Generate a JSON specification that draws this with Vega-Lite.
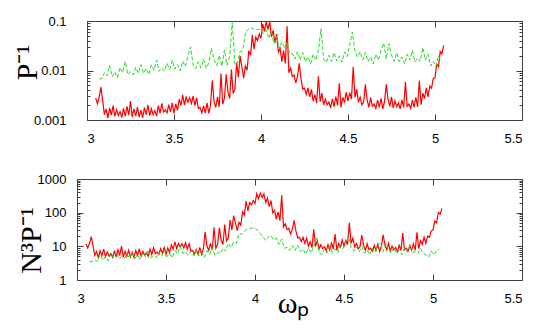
{
"$schema":"https://vega.github.io/schema/vega-lite/v6.json",
"autosize":{"type":"pad"},
"padding":{"left":12,"top":15,"right":5,"bottom":5},
"background":"white",
"spacing":28,
"datasets":{
"red":[
{"x":3.05,"a":0.0028,"c":11.8},{"x":3.06,"a":0.00213,"c":8.95},{"x":3.07,"a":0.00288,"c":12.1},{"x":3.08,"a":0.0046,"c":19.3},{"x":3.09,"a":0.00247,"c":10.4},
{"x":3.1,"a":0.00128,"c":5.38},{"x":3.11,"a":0.00168,"c":7.06},{"x":3.12,"a":0.00109,"c":4.58},{"x":3.13,"a":0.00175,"c":7.35},{"x":3.14,"a":0.00126,"c":5.29},
{"x":3.15,"a":0.00196,"c":8.23},{"x":3.16,"a":0.00118,"c":4.96},{"x":3.17,"a":0.00161,"c":6.76},{"x":3.18,"a":0.00123,"c":5.17},{"x":3.19,"a":0.00147,"c":6.17},
{"x":3.2,"a":0.00112,"c":4.7},{"x":3.21,"a":0.00171,"c":7.18},{"x":3.22,"a":0.00119,"c":5},{"x":3.23,"a":0.00189,"c":7.94},{"x":3.24,"a":0.00126,"c":5.29},
{"x":3.25,"a":0.0024,"c":10.1},{"x":3.26,"a":0.00115,"c":4.83},{"x":3.27,"a":0.00168,"c":7.06},{"x":3.28,"a":0.0012,"c":5.04},{"x":3.29,"a":0.00182,"c":7.64},
{"x":3.3,"a":0.00114,"c":4.79},{"x":3.31,"a":0.00159,"c":6.68},{"x":3.32,"a":0.00111,"c":4.66},{"x":3.33,"a":0.00179,"c":7.52},{"x":3.34,"a":0.00129,"c":5.42},
{"x":3.35,"a":0.00202,"c":8.48},{"x":3.36,"a":0.00122,"c":5.12},{"x":3.37,"a":0.00168,"c":7.06},{"x":3.38,"a":0.00129,"c":5.42},{"x":3.39,"a":0.00155,"c":6.51},
{"x":3.4,"a":0.0012,"c":5.04},{"x":3.41,"a":0.00195,"c":8.19},{"x":3.42,"a":0.00136,"c":5.71},{"x":3.43,"a":0.00216,"c":9.07},{"x":3.44,"a":0.00144,"c":6.05},
{"x":3.45,"a":0.0016,"c":6.72},{"x":3.46,"a":0.00139,"c":5.84},{"x":3.47,"a":0.00204,"c":8.57},{"x":3.48,"a":0.00146,"c":6.13},{"x":3.49,"a":0.00221,"c":9.28},
{"x":3.5,"a":0.00136,"c":5.71},{"x":3.51,"a":0.00213,"c":8.95},{"x":3.52,"a":0.00156,"c":6.55},{"x":3.53,"a":0.00263,"c":11},{"x":3.54,"a":0.00198,"c":8.32},
{"x":3.55,"a":0.00322,"c":13.5},{"x":3.56,"a":0.00202,"c":8.48},{"x":3.57,"a":0.00288,"c":12.1},{"x":3.58,"a":0.00229,"c":9.62},{"x":3.59,"a":0.00284,"c":11.9},
{"x":3.6,"a":0.00216,"c":9.07},{"x":3.61,"a":0.00305,"c":12.8},{"x":3.62,"a":0.00196,"c":8.23},{"x":3.63,"a":0.00284,"c":11.9},{"x":3.64,"a":0.00171,"c":7.18},
{"x":3.65,"a":0.0018,"c":7.56},{"x":3.66,"a":0.00139,"c":5.84},{"x":3.67,"a":0.00192,"c":8.06},{"x":3.68,"a":0.00138,"c":5.8},{"x":3.69,"a":0.00221,"c":9.28},
{"x":3.7,"a":0.00136,"c":5.71},{"x":3.71,"a":0.00202,"c":8.48},{"x":3.72,"a":0.0063,"c":26.5},{"x":3.73,"a":0.00238,"c":10},{"x":3.74,"a":0.0018,"c":7.56},
{"x":3.75,"a":0.00294,"c":12.3},{"x":3.76,"a":0.00185,"c":7.77},{"x":3.77,"a":0.0087,"c":36.5},{"x":3.78,"a":0.00211,"c":8.86},{"x":3.79,"a":0.00273,"c":11.5},
{"x":3.8,"a":0.0084,"c":35.3},{"x":3.81,"a":0.00366,"c":15.4},{"x":3.82,"a":0.00272,"c":11.4},{"x":3.83,"a":0.0105,"c":44.1},{"x":3.84,"a":0.00342,"c":14.4},
{"x":3.85,"a":0.0042,"c":17.6},{"x":3.86,"a":0.0144,"c":60.5},{"x":3.87,"a":0.0073,"c":30.7},{"x":3.88,"a":0.0195,"c":81.9},{"x":3.89,"a":0.0119,"c":50},
{"x":3.9,"a":0.007,"c":29.4},{"x":3.91,"a":0.0123,"c":51.7},{"x":3.92,"a":0.0101,"c":42.4},{"x":3.93,"a":0.0252,"c":106},{"x":3.94,"a":0.0202,"c":84.8},
{"x":3.95,"a":0.0527,"c":221},{"x":3.96,"a":0.0271,"c":114},{"x":3.97,"a":0.0472,"c":198},{"x":3.98,"a":0.0405,"c":170},{"x":3.99,"a":0.0546,"c":229},
{"x":4.0,"a":0.0444,"c":186},{"x":4.01,"a":0.0871,"c":366},{"x":4.02,"a":0.0619,"c":260},{"x":4.03,"a":0.098,"c":380},{"x":4.04,"a":0.0666,"c":280},
{"x":4.05,"a":0.098,"c":360},{"x":4.06,"a":0.048,"c":202},{"x":4.07,"a":0.065,"c":273},{"x":4.08,"a":0.0357,"c":150},{"x":4.09,"a":0.0543,"c":228},
{"x":4.1,"a":0.0234,"c":98},{"x":4.11,"a":0.028,"c":118},{"x":4.12,"a":0.0151,"c":63},{"x":4.13,"a":0.0252,"c":106},{"x":4.14,"a":0.0138,"c":58},
{"x":4.15,"a":0.078,"c":328},{"x":4.16,"a":0.009,"c":37.8},{"x":4.17,"a":0.0112,"c":47},{"x":4.18,"a":0.0075,"c":31.5},{"x":4.19,"a":0.0081,"c":34},
{"x":4.2,"a":0.0056,"c":23.5},{"x":4.21,"a":0.00769,"c":32.3},{"x":4.22,"a":0.014,"c":58.8},{"x":4.23,"a":0.00675,"c":28.4},{"x":4.24,"a":0.00423,"c":17.8},
{"x":4.25,"a":0.0044,"c":18.5},{"x":4.26,"a":0.00328,"c":13.8},{"x":4.27,"a":0.00444,"c":18.6},{"x":4.28,"a":0.00292,"c":12.3},{"x":4.29,"a":0.00416,"c":17.5},
{"x":4.3,"a":0.0024,"c":10.1},{"x":4.31,"a":0.00325,"c":13.7},{"x":4.32,"a":0.00218,"c":9.16},{"x":4.33,"a":0.0076,"c":31.9},{"x":4.34,"a":0.00234,"c":9.83},
{"x":4.35,"a":0.0035,"c":14.7},{"x":4.36,"a":0.00202,"c":8.48},{"x":4.37,"a":0.00265,"c":11.1},{"x":4.38,"a":0.00202,"c":8.48},{"x":4.39,"a":0.00231,"c":9.7},
{"x":4.4,"a":0.00176,"c":7.39},{"x":4.41,"a":0.00268,"c":11.3},{"x":4.42,"a":0.00187,"c":7.85},{"x":4.43,"a":0.00297,"c":12.5},{"x":4.44,"a":0.00198,"c":8.32},
{"x":4.45,"a":0.0055,"c":23.1},{"x":4.46,"a":0.0018,"c":7.56},{"x":4.47,"a":0.00288,"c":12.1},{"x":4.48,"a":0.00224,"c":9.41},{"x":4.49,"a":0.00364,"c":15.3},
{"x":4.5,"a":0.0024,"c":10.1},{"x":4.51,"a":0.00358,"c":15},{"x":4.52,"a":0.00265,"c":11.1},{"x":4.53,"a":0.0119,"c":50},{"x":4.54,"a":0.00288,"c":12.1},
{"x":4.55,"a":0.0042,"c":17.6},{"x":4.56,"a":0.00227,"c":9.53},{"x":4.57,"a":0.00288,"c":12.1},{"x":4.58,"a":0.00202,"c":8.48},{"x":4.59,"a":0.00231,"c":9.7},
{"x":4.6,"a":0.00525,"c":22.1},{"x":4.61,"a":0.00256,"c":10.8},{"x":4.62,"a":0.00179,"c":7.52},{"x":4.63,"a":0.00284,"c":11.9},{"x":4.64,"a":0.00189,"c":7.94},
{"x":4.65,"a":0.0021,"c":8.82},{"x":4.66,"a":0.00172,"c":7.22},{"x":4.67,"a":0.00252,"c":10.6},{"x":4.68,"a":0.00181,"c":7.6},{"x":4.69,"a":0.00273,"c":11.5},
{"x":4.7,"a":0.00168,"c":7.06},{"x":4.71,"a":0.00235,"c":9.87},{"x":4.72,"a":0.00525,"c":22.1},{"x":4.73,"a":0.00263,"c":11},{"x":4.74,"a":0.00189,"c":7.94},
{"x":4.75,"a":0.00294,"c":12.3},{"x":4.76,"a":0.00176,"c":7.39},{"x":4.77,"a":0.00242,"c":10.2},{"x":4.78,"a":0.00185,"c":7.77},{"x":4.79,"a":0.0022,"c":9.24},
{"x":4.8,"a":0.00168,"c":7.06},{"x":4.81,"a":0.00256,"c":10.8},{"x":4.82,"a":0.00179,"c":7.52},{"x":4.83,"a":0.00588,"c":24.7},{"x":4.84,"a":0.00189,"c":7.94},
{"x":4.85,"a":0.0021,"c":8.82},{"x":4.86,"a":0.00172,"c":7.22},{"x":4.87,"a":0.00252,"c":10.6},{"x":4.88,"a":0.00181,"c":7.6},{"x":4.89,"a":0.00286,"c":12},
{"x":4.9,"a":0.00184,"c":7.73},{"x":4.91,"a":0.00624,"c":26.2},{"x":4.92,"a":0.00203,"c":8.53},{"x":4.93,"a":0.0035,"c":14.7},{"x":4.94,"a":0.0027,"c":11.3},
{"x":4.95,"a":0.00448,"c":18.8},{"x":4.96,"a":0.00294,"c":12.3},{"x":4.97,"a":0.00483,"c":20.3},{"x":4.98,"a":0.0044,"c":18.5},{"x":4.99,"a":0.00683,"c":28.7},
{"x":5.0,"a":0.0072,"c":30.2},{"x":5.01,"a":0.0134,"c":56.3},{"x":5.02,"a":0.0119,"c":50},{"x":5.03,"a":0.0243,"c":102},{"x":5.04,"a":0.0216,"c":90.7},
{"x":5.05,"a":0.032,"c":134}
],
"green":[
{"x":3.07,"b":0.0068,"d":3.5},{"x":3.085,"b":0.0068,"d":3.5},{"x":3.1,"b":0.009,"d":4.0},{"x":3.115,"b":0.0077,"d":3.6},{"x":3.13,"b":0.0128,"d":5.8},
{"x":3.145,"b":0.0075,"d":3.9},{"x":3.16,"b":0.0094,"d":5.0},{"x":3.175,"b":0.0072,"d":3.7},{"x":3.19,"b":0.0115,"d":5.9},{"x":3.205,"b":0.009,"d":4.6},
{"x":3.22,"b":0.0152,"d":7.2},{"x":3.235,"b":0.0083,"d":4.3},{"x":3.25,"b":0.0095,"d":4.9},{"x":3.265,"b":0.0081,"d":4.25},{"x":3.28,"b":0.0115,"d":6.0},
{"x":3.295,"b":0.0087,"d":4.5},{"x":3.31,"b":0.0132,"d":6.75},{"x":3.325,"b":0.0087,"d":4.4},{"x":3.34,"b":0.011,"d":5.6},{"x":3.355,"b":0.0082,"d":4.1},
{"x":3.37,"b":0.013,"d":6.4},{"x":3.385,"b":0.0101,"d":4.9},{"x":3.4,"b":0.0162,"d":7.8},{"x":3.415,"b":0.0096,"d":4.6},{"x":3.43,"b":0.0112,"d":5.3},
{"x":3.445,"b":0.0097,"d":4.6},{"x":3.46,"b":0.0139,"d":6.5},{"x":3.475,"b":0.0106,"d":5.0},{"x":3.49,"b":0.0162,"d":7.4},{"x":3.505,"b":0.0106,"d":4.9},
{"x":3.52,"b":0.0132,"d":6.3},{"x":3.535,"b":0.0098,"d":4.6},{"x":3.55,"b":0.0155,"d":7.5},{"x":3.565,"b":0.012,"d":6.0},{"x":3.58,"b":0.0192,"d":10},
{"x":3.595,"b":0.03,"d":6.1},{"x":3.61,"b":0.013,"d":6.8},{"x":3.625,"b":0.0109,"d":5.4},{"x":3.64,"b":0.0151,"d":7.2},{"x":3.655,"b":0.0113,"d":5.3},
{"x":3.67,"b":0.0169,"d":7.8},{"x":3.685,"b":0.0111,"d":5.1},{"x":3.7,"b":0.0141,"d":6.4},{"x":3.715,"b":0.028,"d":4.7},{"x":3.73,"b":0.0163,"d":7.4},
{"x":3.745,"b":0.0125,"d":5.7},{"x":3.76,"b":0.0203,"d":9.2},{"x":3.775,"b":0.0122,"d":5.5},{"x":3.79,"b":0.026,"d":6.6},{"x":3.805,"b":0.0128,"d":6.0},
{"x":3.82,"b":0.0192,"d":8.9},{"x":3.835,"b":0.098,"d":7.2},{"x":3.85,"b":0.013,"d":12.2},{"x":3.865,"b":0.0141,"d":9.2},{"x":3.88,"b":0.0242,"d":13.2},
{"x":3.895,"b":0.0256,"d":12},{"x":3.91,"b":0.056,"d":23.8},{"x":3.925,"b":0.0665,"d":22.8},{"x":3.94,"b":0.075,"d":28},{"x":3.955,"b":0.068,"d":32},
{"x":3.97,"b":0.068,"d":34},{"x":3.985,"b":0.068,"d":35},{"x":4.0,"b":0.066,"d":34},{"x":4.015,"b":0.055,"d":30},{"x":4.03,"b":0.066,"d":24},
{"x":4.045,"b":0.045,"d":19},{"x":4.06,"b":0.061,"d":15},{"x":4.075,"b":0.035,"d":19},{"x":4.09,"b":0.05,"d":21},{"x":4.105,"b":0.028,"d":15.2},
{"x":4.12,"b":0.0375,"d":17.5},{"x":4.135,"b":0.0285,"d":11.4},{"x":4.15,"b":0.0375,"d":16.5},{"x":4.165,"b":0.0218,"d":8.7},{"x":4.18,"b":0.022,"d":9.5},
{"x":4.195,"b":0.017,"d":7.65},{"x":4.21,"b":0.024,"d":10.4},{"x":4.225,"b":0.0162,"d":7.5},{"x":4.24,"b":0.023,"d":10.8},{"x":4.255,"b":0.015,"d":6.9},
{"x":4.27,"b":0.0187,"d":8.25},{"x":4.285,"b":0.0136,"d":5.8},{"x":4.3,"b":0.0213,"d":8.75},{"x":4.315,"b":0.0162,"d":6.5},{"x":4.33,"b":0.0255,"d":9.9},
{"x":4.345,"b":0.07,"d":18},{"x":4.36,"b":0.017,"d":6.5},{"x":4.375,"b":0.0145,"d":5.6},{"x":4.39,"b":0.0204,"d":8.2},{"x":4.405,"b":0.0153,"d":6.3},
{"x":4.42,"b":0.023,"d":9.7},{"x":4.435,"b":0.0154,"d":6.5},{"x":4.45,"b":0.0198,"d":8.4},{"x":4.465,"b":0.0148,"d":6.4},{"x":4.48,"b":0.0238,"d":10.6},
{"x":4.495,"b":0.019,"d":8.6},{"x":4.51,"b":0.033,"d":14.3},{"x":4.525,"b":0.06,"d":21},{"x":4.54,"b":0.025,"d":9},{"x":4.555,"b":0.0187,"d":7.2},
{"x":4.57,"b":0.024,"d":9.6},{"x":4.585,"b":0.0162,"d":6.8},{"x":4.6,"b":0.023,"d":9.9},{"x":4.615,"b":0.015,"d":6.2},{"x":4.63,"b":0.0187,"d":7.7},
{"x":4.645,"b":0.0136,"d":5.6},{"x":4.66,"b":0.0213,"d":8.75},{"x":4.675,"b":0.0162,"d":6.65},{"x":4.69,"b":0.0255,"d":10.5},{"x":4.705,"b":0.036,"d":12.6},
{"x":4.72,"b":0.017,"d":7},{"x":4.735,"b":0.035,"d":12.6},{"x":4.75,"b":0.0204,"d":8.4},{"x":4.765,"b":0.0153,"d":6.3},{"x":4.78,"b":0.023,"d":9.45},
{"x":4.795,"b":0.015,"d":6.2},{"x":4.81,"b":0.0187,"d":7.7},{"x":4.825,"b":0.0136,"d":5.6},{"x":4.84,"b":0.0213,"d":8.75},{"x":4.855,"b":0.0162,"d":6.65},
{"x":4.87,"b":0.0255,"d":10.5},{"x":4.885,"b":0.0148,"d":6.2},{"x":4.9,"b":0.018,"d":7.2},{"x":4.915,"b":0.0153,"d":6.1},{"x":4.93,"b":0.029,"d":8.6},
{"x":4.945,"b":0.0162,"d":6.3},{"x":4.96,"b":0.0216,"d":5.5},{"x":4.975,"b":0.0123,"d":4.8},{"x":4.99,"b":0.0154,"d":7.2},{"x":5.005,"b":0.012,"d":5.6},
{"x":5.02,"b":0.02,"d":7.5},{"x":5.035,"b":0.0152,"d":8.2}
]
},
"vconcat":[
{
"width":445,"height":99,
"layer":[
{"data":{"name":"red"},"mark":{"type":"line","color":"#ff0000","strokeWidth":1.2,"clip":true},
"encoding":{
"x":{"field":"x","type":"quantitative","scale":{"domain":[3,5.5],"range":[10,445],"nice":false,"zero":false},
"axis":{"orient":"bottom","values":[3,3.5,4,4.5,5,5.5],"format":"~g","tickSize":-6,"labelPadding":18,"title":null}},
"y":{"field":"a","type":"quantitative","scale":{"type":"log","domain":[0.001,0.1],"nice":false},
"axis":{"orient":"left","offset":-10,"values":[0.001,0.01,0.1],"format":"~g","tickSize":-6,"labelPadding":27,"title":"P⁻¹","titleBaseline":"alphabetic","titlePadding":-3,"titleY":41,"titleAlign":"center"}}}},
{"data":{"name":"green"},"mark":{"type":"line","color":"#22dd22","strokeWidth":1,"strokeDash":[4,2],"clip":true},
"encoding":{
"x":{"field":"x","type":"quantitative","scale":{"domain":[3,5.5],"range":[10,445],"nice":false,"zero":false},
"axis":{"orient":"top","values":[3,3.5,4,4.5,5,5.5],"labels":false,"tickSize":-6,"title":null}},
"y":{"field":"b","type":"quantitative","scale":{"type":"log","domain":[0.001,0.1],"nice":false},
"axis":{"orient":"right","values":[0.001,0.01,0.1],"labels":false,"tickSize":-6,"title":null}}}},
{"data":{"values":[{"x":4,"a":0.01}]},"mark":{"type":"point","opacity":0},
"encoding":{
"x":{"field":"x","type":"quantitative","scale":{"domain":[3,5.5],"range":[10,445],"nice":false,"zero":false},"axis":null},
"y":{"field":"a","type":"quantitative","scale":{"type":"log","domain":[0.001,0.1],"nice":false},
"axis":{"orient":"left","offset":-10,"values":[0.002,0.003,0.004,0.005,0.006,0.007,0.008,0.009,0.02,0.03,0.04,0.05,0.06,0.07,0.08,0.09],"labels":false,"domain":false,"tickSize":-3,"title":null}}}},
{"data":{"values":[{"x":4,"a":0.01}]},"mark":{"type":"point","opacity":0},
"encoding":{
"x":{"field":"x","type":"quantitative","scale":{"domain":[3,5.5],"range":[10,445],"nice":false,"zero":false},"axis":null},
"y":{"field":"a","type":"quantitative","scale":{"type":"log","domain":[0.001,0.1],"nice":false},
"axis":{"orient":"right","values":[0.002,0.003,0.004,0.005,0.006,0.007,0.008,0.009,0.02,0.03,0.04,0.05,0.06,0.07,0.08,0.09],"labels":false,"domain":false,"tickSize":-3,"title":null}}}}
],
"resolve":{"axis":{"x":"independent","y":"independent"}}
},
{
"width":445,"height":101,
"layer":[
{"data":{"name":"red"},"mark":{"type":"line","color":"#ff0000","strokeWidth":1.2,"clip":true},
"encoding":{
"x":{"field":"x","type":"quantitative","scale":{"domain":[3,5.5],"nice":false,"zero":false},
"axis":{"orient":"bottom","values":[3,3.5,4,4.5,5,5.5],"format":"~g","tickSize":-6,"labelPadding":18,"title":"ωₚ","titleBaseline":"alphabetic","titlePadding":7,"titleX":216,"titleAlign":"center"}},
"y":{"field":"c","type":"quantitative","scale":{"type":"log","domain":[1,1000],"nice":false},
"axis":{"orient":"left","values":[1,10,100,1000],"format":"~g","tickSize":-6,"labelPadding":17,"title":"N³P⁻¹","titleBaseline":"alphabetic","titlePadding":-3,"titleY":61,"titleAlign":"center"}}}},
{"data":{"name":"green"},"mark":{"type":"line","color":"#22dd22","strokeWidth":1,"strokeDash":[4,2],"clip":true},
"encoding":{
"x":{"field":"x","type":"quantitative","scale":{"domain":[3,5.5],"nice":false,"zero":false},
"axis":{"orient":"top","values":[3,3.5,4,4.5,5,5.5],"labels":false,"tickSize":-6,"title":null}},
"y":{"field":"d","type":"quantitative","scale":{"type":"log","domain":[1,1000],"nice":false},
"axis":{"orient":"right","values":[1,10,100,1000],"labels":false,"tickSize":-6,"title":null}}}},
{"data":{"values":[{"x":4,"c":10}]},"mark":{"type":"point","opacity":0},
"encoding":{
"x":{"field":"x","type":"quantitative","scale":{"domain":[3,5.5],"nice":false,"zero":false},"axis":null},
"y":{"field":"c","type":"quantitative","scale":{"type":"log","domain":[1,1000],"nice":false},
"axis":{"orient":"left","values":[2,3,4,5,6,7,8,9,20,30,40,50,60,70,80,90,200,300,400,500,600,700,800,900],"labels":false,"domain":false,"tickSize":-3,"title":null}}}},
{"data":{"values":[{"x":4,"c":10}]},"mark":{"type":"point","opacity":0},
"encoding":{
"x":{"field":"x","type":"quantitative","scale":{"domain":[3,5.5],"nice":false,"zero":false},"axis":null},
"y":{"field":"c","type":"quantitative","scale":{"type":"log","domain":[1,1000],"nice":false},
"axis":{"orient":"right","values":[2,3,4,5,6,7,8,9,20,30,40,50,60,70,80,90,200,300,400,500,600,700,800,900],"labels":false,"domain":false,"tickSize":-3,"title":null}}}}
],
"resolve":{"axis":{"x":"independent","y":"independent"}}
}
],
"config":{
"view":{"stroke":null},
"axis":{"grid":false,"domainColor":"#404040","tickColor":"#404040","domainWidth":1,"tickWidth":1,
"labelFont":"Liberation Sans","labelFontSize":13,"labelColor":"#000000",
"titleFont":"Liberation Serif","titleFontSize":30,"titleFontWeight":"normal","titleColor":"#000000"}
}
}
